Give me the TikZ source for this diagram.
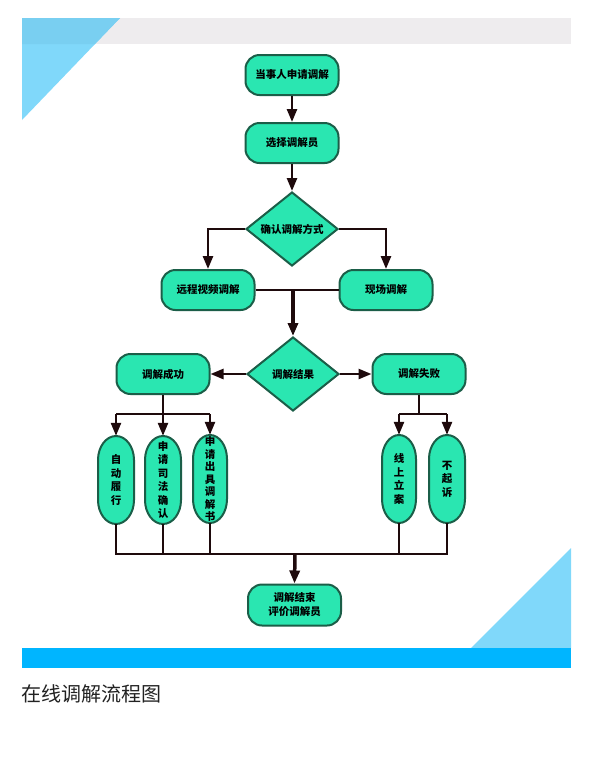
\documentclass[tikz,border=0pt]{standalone}
\usepackage{fontspec}
\newfontfamily\cjk{Noto Sans CJK SC}
\usetikzlibrary{shapes.geometric,arrows.meta}
\definecolor{boxfill}{HTML}{2AE6B1}
\definecolor{boxline}{HTML}{1B5E48}
\definecolor{conn}{HTML}{1E0A0C}
\definecolor{band}{HTML}{EEECEE}
\definecolor{tri}{HTML}{80D8FA}
\definecolor{trid}{HTML}{79CFF1}
\definecolor{bar}{HTML}{00B5FF}
\definecolor{cap}{HTML}{222222}
\tikzset{
  base/.style={draw=boxline, fill=boxfill, line width=2pt, inner sep=0pt,
    font=\cjk\bfseries\fontsize{10.5}{14}\selectfont, text=black, align=center},
  rbox/.style={base, rectangle, rounded corners=14pt, minimum width=93pt, minimum height=40pt},
  dbox/.style={base, diamond, aspect=1.25, minimum width=92pt, minimum height=74pt},
  pilltext/.style={inner sep=0pt, text=black, align=center, minimum width=35pt, minimum height=88pt,
    font=\cjk\bfseries\fontsize{10.5}{13.5}\selectfont},
  pillshape/.style={draw=boxline, fill=boxfill, line width=2pt},
  conline/.style={draw=conn, line width=2.5pt},
  arr/.style={conline, -{Triangle[length=13pt,width=10pt]}},
}
% #1 name, #2 x, #3 y, #4 half width, #5 text, #6 extra options
\newcommand\mypill[6]{%
  \fill[boxfill] (#2-#4,#3+20) -- (#2-#4,#3-20)
     arc[start angle=180,end angle=0,x radius=#4 pt,y radius=24pt]
     -- (#2+#4,#3+20)
     arc[start angle=0,end angle=-180,x radius=#4 pt,y radius=24pt] -- cycle;
  \draw[pillshape, fill=none] (#2-#4,#3+20) -- (#2-#4,#3-20)
     arc[start angle=180,end angle=0,x radius=#4 pt,y radius=24pt]
     -- (#2+#4,#3+20)
     arc[start angle=0,end angle=-180,x radius=#4 pt,y radius=24pt] -- cycle;
  \node[pilltext,#6] (#1) at (#2,#3) {#5};%
}
\begin{document}
\begin{tikzpicture}[x=1pt,y=-1pt]
\useasboundingbox (0,0) rectangle (592,769);
\fill[white] (0,0) rectangle (592,769);
% decorations
\fill[band] (22,18) rectangle (571,44);
\fill[tri] (22,18) -- (120,18) -- (22,120) -- cycle;
\fill[trid] (22,18) -- (120,18) -- (95,44) -- (22,44) -- cycle;
\fill[tri] (571,548) -- (571,648) -- (471,648) -- cycle;
\fill[bar] (22,648) rectangle (571,668);
\node[anchor=west, inner sep=0pt, text=cap, font=\cjk\fontsize{20}{24}\selectfont] (cap) at (21,694) {在线调解流程图};
% nodes
\node[rbox] (a1) at (292,75) {当事人申请调解};
\node[rbox] (a2) at (292,143) {选择调解员};
\node[dbox] (d1) at (292,229) {确认调解方式};
\node[rbox] (n4) at (208,290) {远程视频调解};
\node[rbox] (n5) at (386,290) {现场调解};
\node[dbox] (d2) at (293,374) {调解结果};
\node[rbox] (s) at (163,374) {调解成功};
\node[rbox] (f) at (419,374) {调解失败};
\mypill{p1}{116}{480}{18}{自\\动\\履\\行}{}
\mypill{p2}{163}{480}{18}{申\\请\\司\\法\\确\\认}{}
\mypill{p3}{210}{479}{17}{申\\请\\出\\具\\调\\解\\书}{font=\cjk\bfseries\fontsize{10.5}{12.5}\selectfont}
\mypill{p4}{399}{479}{17}{线\\上\\立\\案}{}
\mypill{p5}{447}{479}{18}{不\\起\\诉}{}
\node[rbox, minimum height=41pt] (e) at (294.5,605) {调解结束\\评价调解员};
% coordinates
\coordinate (t1) at (293,290);
\coordinate (sb) at (163,414);
\coordinate (fb) at (419,414);
\coordinate (bl) at (116,554);
\coordinate (br) at (447,554);
\coordinate (bm) at (295,554);
% connectors
\draw[arr] (a1) -- (a2);
\draw[arr] (a2) -- (d1);
\draw[arr] (d1.west) -| (n4.north);
\draw[arr] (d1.east) -| (n5.north);
\draw[conline] (n4.east) -- (n5.west);
\draw[arr, line width=3.2pt] (t1) -- (d2.north);
\draw[arr] (d2.west) -- (s.east);
\draw[arr] (d2.east) -- (f.west);
\draw[conline] (s.south) -- (sb);
\draw[conline] (p1.north |- sb) -- (p3.north |- sb);
\draw[arr] (p1.north |- sb) -- (p1.north);
\draw[arr] (sb) -- (p2.north);
\draw[arr] (p3.north |- sb) -- (p3.north);
\draw[conline] (f.south) -- (fb);
\draw[conline] (p4.north |- fb) -- (p5.north |- fb);
\draw[arr] (p4.north |- fb) -- (p4.north);
\draw[arr] (p5.north |- fb) -- (p5.north);
\draw[conline] (p1.south) -- (bl) -- (br) -- (p5.south);
\draw[conline] (p2.south) -- (p2.south |- bl);
\draw[conline] (p3.south) -- (p3.south |- bl);
\draw[conline] (p4.south) -- (p4.south |- bl);
\draw[arr, line width=3.5pt] (bm) -- (e.north);
\end{tikzpicture}
\end{document}
